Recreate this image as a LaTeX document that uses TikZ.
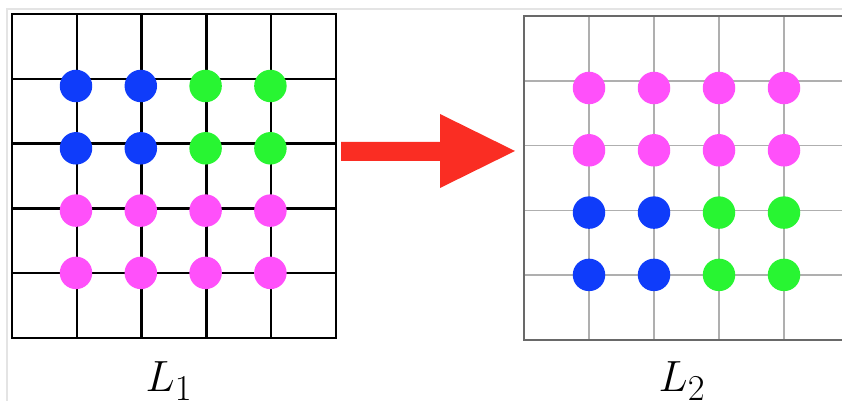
\documentclass[tikz,border=0pt]{standalone}
\usepackage{xcolor}
\definecolor{dotblue}{RGB}{15, 60, 250}
\definecolor{dotgreen}{RGB}{40, 245, 50}
\definecolor{dotpink}{RGB}{255, 80, 250}
\definecolor{arrowred}{RGB}{250, 45, 35}
\definecolor{framegray}{RGB}{105, 105, 105}
\definecolor{linegray}{RGB}{175, 175, 175}
\definecolor{edgegray}{RGB}{228, 228, 228}
\usepackage{tikz}

\begin{document}
\begin{tikzpicture}[x=0.02cm, y=-0.02cm,
    dot/.style={circle, minimum size=0.65cm, inner sep=0pt},
    label/.style={font=\Huge, anchor=base}]
    \useasboundingbox (0,0) rectangle (842,401);
    \draw[edgegray, line width=0.8pt] (7,401) -- (7,9) -- (842,9);

    % left lattice
    \foreach \k in {1,...,4} {
      \draw[line width=1.3pt] ({12+64.8*\k},14) -- ({12+64.8*\k},338);
      \draw[line width=1.3pt] (12,{14+64.8*\k}) -- (336,{14+64.8*\k});
    }
    \draw[line width=1.4pt] (12,14) rectangle (336,338);
    \foreach \c/\col in {1/dotblue, 2/dotblue, 3/dotgreen, 4/dotgreen} {
      \foreach \r in {1,2}
        \node[dot, fill=\col] (ldot-\r-\c) at ({76+64.8*(\c-1)},{86+62.3*(\r-1)}) {};
      \foreach \r in {3,4}
        \node[dot, fill=dotpink] (ldot-\r-\c) at ({76+64.8*(\c-1)},{86+62.3*(\r-1)}) {};
    }

    % right lattice
    \begin{scope}
      \clip (0,0) rectangle (842,401);
      \foreach \k in {1,...,4} {
        \draw[linegray, line width=1pt] ({524+65*\k},16) -- ({524+65*\k},340);
        \draw[linegray, line width=1pt] (524,{16+64.8*\k}) -- (850,{16+64.8*\k});
      }
      \draw[framegray, line width=1.3pt] (524,16) rectangle (850,340);
    \end{scope}
    \foreach \c/\col in {1/dotblue, 2/dotblue, 3/dotgreen, 4/dotgreen} {
      \foreach \r in {1,2}
        \node[dot, fill=dotpink] (rdot-\r-\c) at ({589+65*(\c-1)},{88+62.3*(\r-1)}) {};
      \foreach \r in {3,4}
        \node[dot, fill=\col] (rdot-\r-\c) at ({589+65*(\c-1)},{88+62.3*(\r-1)}) {};
    }

    % arrow between the two
    \fill[arrowred] (341,142) -- (440,142) -- (440,114) -- (515,151)
      -- (440,188) -- (440,161) -- (341,161) -- cycle;

    \node[label] (lone) at (169,392) {$L_1$};
    \node[label] (ltwo) at (682,392) {$L_2$};
\end{tikzpicture}
\end{document}
